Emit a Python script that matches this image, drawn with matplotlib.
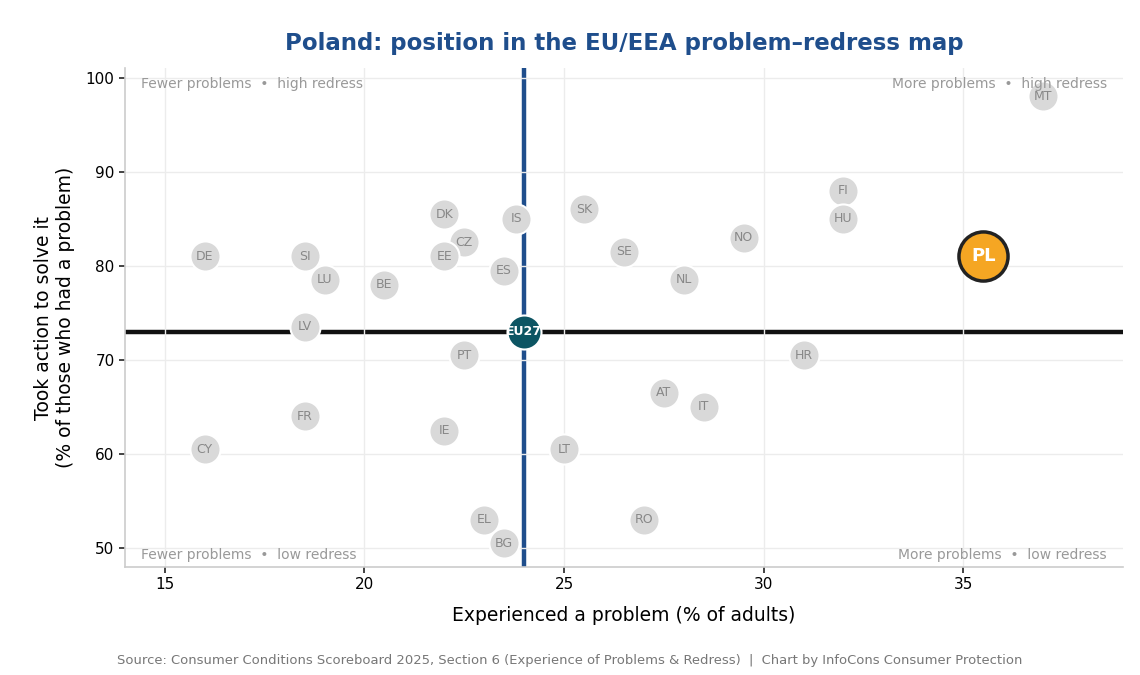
import matplotlib
matplotlib.use('Agg')
import matplotlib.pyplot as plt

# --- Data ---
countries = ['DE', 'SI', 'LU', 'BE', 'DK', 'CZ', 'EE', 'IS', 'ES', 'SK',
             'SE', 'NL', 'NO', 'FI', 'HU', 'MT', 'LV', 'PT', 'HR', 'AT',
             'IT', 'FR', 'IE', 'CY', 'LT', 'EL', 'RO', 'BG']
problems = [16.0, 18.5, 19.0, 20.5, 22.0, 22.5, 22.0, 23.8, 23.5, 25.5,
            26.5, 28.0, 29.5, 32.0, 32.0, 37.0, 18.5, 22.5, 31.0, 27.5,
            28.5, 18.5, 22.0, 16.0, 25.0, 23.0, 27.0, 23.5]
redress = [81.0, 81.0, 78.5, 78.0, 85.5, 82.5, 81.0, 85.0, 79.5, 86.0,
           81.5, 78.5, 83.0, 88.0, 85.0, 98.0, 73.5, 70.5, 70.5, 66.5,
           65.0, 64.0, 62.5, 60.5, 60.5, 53.0, 53.0, 50.5]

eu_problems, eu_redress = 24.0, 73.0
pl_problems, pl_redress = 35.5, 81.0

x_ticks = [15, 20, 25, 30, 35]
y_ticks = [50, 60, 70, 80, 90, 100]

# --- Colours ---
BLUE = '#1f4e8c'
GREY_DOT = '#d9d9d9'
GREY_TXT = '#888888'
CORNER_TXT = '#999999'

fig = plt.figure(figsize=(11.4, 6.75), dpi=100)
ax = fig.add_axes([0.1096, 0.16, 0.8754, 0.739])

ax.set_xlim(14, 39)
ax.set_ylim(48, 101)
ax.set_xticks(x_ticks)
ax.set_yticks(y_ticks)
ax.tick_params(labelsize=11, length=4, width=1.2, color='#222222')

ax.set_axisbelow(True)
ax.grid(True, color='#ececec', linewidth=1)

for side in ['top', 'right']:
    ax.spines[side].set_visible(False)
for side in ['left', 'bottom']:
    ax.spines[side].set_color('#cccccc')
    ax.spines[side].set_linewidth(1.2)

# reference lines at EU27 average (under the grid)
ax.axvline(eu_problems, color=BLUE, linewidth=3.2, zorder=0.3)
ax.axhline(eu_redress, color='#111111', linewidth=3.2, zorder=0.3)

# other countries
ax.scatter(problems, redress, s=470, color=GREY_DOT, edgecolor='white',
           linewidth=1.5, zorder=3)
for c, x, y in zip(countries, problems, redress):
    ax.text(x, y, c, ha='center', va='center', fontsize=9, color=GREY_TXT,
            zorder=4)

# EU27
ax.scatter([eu_problems], [eu_redress], s=600, color='#0d5563',
           edgecolor='white', linewidth=1.5, zorder=5)
ax.text(eu_problems, eu_redress, 'EU27', ha='center', va='center',
        fontsize=9, color='white', fontweight='bold', zorder=6)

# Poland
ax.scatter([pl_problems], [pl_redress], s=1250, color='#f5a623',
           edgecolor='#222222', linewidth=2.5, zorder=7)
ax.text(pl_problems, pl_redress, 'PL', ha='center', va='center',
        fontsize=13, color='white', fontweight='bold', zorder=8)

# quadrant captions
ax.text(0.016, 0.983, 'Fewer problems  \u2022  high redress', transform=ax.transAxes,
        ha='left', va='top', fontsize=10, color=CORNER_TXT, zorder=9)
ax.text(0.984, 0.983, 'More problems  \u2022  high redress', transform=ax.transAxes,
        ha='right', va='top', fontsize=10, color=CORNER_TXT, zorder=9)
ax.text(0.016, 0.01, 'Fewer problems  \u2022  low redress', transform=ax.transAxes,
        ha='left', va='bottom', fontsize=10, color=CORNER_TXT, zorder=9)
ax.text(0.984, 0.01, 'More problems  \u2022  low redress', transform=ax.transAxes,
        ha='right', va='bottom', fontsize=10, color=CORNER_TXT, zorder=9)

ax.set_title('Poland: position in the EU/EEA problem\u2013redress map',
             fontsize=16.45, fontweight='bold', color=BLUE, pad=13)
ax.set_xlabel('Experienced a problem (% of adults)', fontsize=13.5, labelpad=10)
ax.set_ylabel('Took action to solve it\n(% of those who had a problem)',
              fontsize=13.5, labelpad=8)

fig.text(0.5, 0.012,
         'Source: Consumer Conditions Scoreboard 2025, Section 6 (Experience of Problems & Redress)  |  Chart by InfoCons Consumer Protection',
         ha='center', va='bottom', fontsize=9.45, color='#777777')

fig.savefig('out.png', dpi=100, facecolor='white')
